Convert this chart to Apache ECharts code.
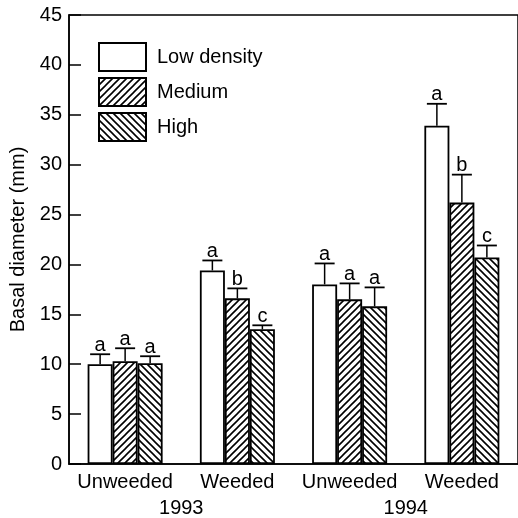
<!DOCTYPE html>
<html><head><meta charset="utf-8">
<script src="https://cdn.jsdelivr.net/npm/echarts@6/dist/echarts.min.js"></script>
<style>html,body{margin:0;padding:0;background:#fff}#c{width:518px;height:518px}</style>
</head><body><div id="c"></div>
<script>
const categories = ['Unweeded', 'Weeded', 'Unweeded', 'Weeded'];
const years = ['1993', '1994'];
const seriesNames = ['Low density', 'Medium', 'High'];
const lowVals = [10.0, 19.4, 18.0, 33.9];
const medVals = [10.3, 16.6, 16.5, 26.2];
const highVals = [10.1, 13.5, 15.8, 20.7];
const lowErr = [11.0, 20.4, 20.1, 36.1];
const medErr = [11.6, 17.6, 18.1, 29.0];
const highErr = [10.8, 13.9, 17.7, 21.9];
const lowLetters = ['a', 'a', 'a', 'a'];
const medLetters = ['a', 'b', 'a', 'b'];
const highLetters = ['a', 'c', 'a', 'c'];
const yTicks = [0, 5, 10, 15, 20, 25, 30, 35, 40, 45];

const FONT = 'Liberation Sans, Arial, sans-serif';
const BW = 25;

function hatch(dir) {
  const s = 7;
  const c = document.createElement('canvas');
  c.width = s; c.height = s;
  const g = c.getContext('2d');
  g.fillStyle = '#fff'; g.fillRect(0, 0, s, s);
  g.strokeStyle = '#000'; g.lineWidth = 1.6;
  g.beginPath();
  if (dir === '/') {
    g.moveTo(-1, s + 1); g.lineTo(s + 1, -1);
    g.moveTo(-1, 1); g.lineTo(1, -1);
    g.moveTo(s - 1, s + 1); g.lineTo(s + 1, s - 1);
  } else {
    g.moveTo(-1, -1); g.lineTo(s + 1, s + 1);
    g.moveTo(s - 1, -1); g.lineTo(s + 1, 1);
    g.moveTo(-1, s - 1); g.lineTo(1, s + 1);
  }
  g.stroke();
  return c;
}

const fills = ['#fff', { image: hatch('/'), repeat: 'repeat' }, { image: hatch('\\'), repeat: 'repeat' }];
const vals = [lowVals, medVals, highVals];
const errs = [lowErr, medErr, highErr];
const letters = [lowLetters, medLetters, highLetters];

const series = [];
for (let i = 0; i < 3; i++) {
  series.push({
    name: seriesNames[i], type: 'bar', barWidth: BW, barGap: '0%',
    data: vals[i],
    itemStyle: { color: fills[i], borderColor: '#000', borderWidth: 1.8 },
    emphasis: { disabled: true }, z: 2
  });
}
for (let i = 0; i < 3; i++) {
  const off = (i - 1) * BW;
  series.push({
    type: 'custom', z: 3, silent: true,
    data: vals[i].map((v, k) => [k, v, errs[i][k]]),
    renderItem: function (params, api) {
      const base = api.coord([api.value(0), api.value(1)]);
      const top = api.coord([api.value(0), api.value(2)]);
      const x = base[0] + off;
      const k = params.dataIndex;
      return {
        type: 'group', children: [
          { type: 'line', shape: { x1: x, y1: base[1], x2: x, y2: top[1] }, style: { stroke: '#000', lineWidth: 1.5 } },
          { type: 'line', shape: { x1: x - 10, y1: top[1], x2: x + 10, y2: top[1] }, style: { stroke: '#000', lineWidth: 1.8 } },
          { type: 'text', x: x, y: top[1] - 9, style: { text: letters[i][k], fontSize: 20, fontFamily: FONT, fill: '#000', align: 'center', verticalAlign: 'middle' } }
        ]
      };
    }
  });
}

const chart = echarts.init(document.getElementById('c'), null, { renderer: 'canvas' });
chart.setOption({
  animation: false,
  backgroundColor: '#fff',
  grid: { left: 69, top: 15, width: 452, height: 450, show: true, borderColor: '#000', borderWidth: 1.5, backgroundColor: 'transparent' },
  legend: {
    orient: 'vertical', left: 93, top: 37, itemWidth: 47, itemHeight: 28, itemGap: 5,
    icon: 'rect', selectedMode: false,
    data: seriesNames,
    textStyle: { fontSize: 20, fontFamily: FONT, color: '#000', padding: [0, 0, 0, 6] }
  },
  xAxis: [
    {
      type: 'category', data: categories, position: 'bottom',
      axisLine: { lineStyle: { color: '#000', width: 1.5 } },
      axisTick: { show: false },
      axisLabel: { interval: 0, hideOverlap: false, fontSize: 20, fontFamily: FONT, color: '#000', margin: 8 }
    },
    {
      type: 'category', data: years, position: 'bottom', offset: 26,
      axisLine: { show: false }, axisTick: { show: false },
      axisLabel: { interval: 0, hideOverlap: false, fontSize: 20, fontFamily: FONT, color: '#000', margin: 8 }
    }
  ],
  yAxis: {
    type: 'value', min: 0, max: 45, interval: 5,
    name: 'Basal diameter (mm)', nameLocation: 'middle', nameGap: 41,
    nameTextStyle: { fontSize: 20, fontFamily: FONT, color: '#000' },
    axisLine: { show: true, lineStyle: { color: '#000', width: 1.5 } },
    axisTick: { show: true, inside: true, length: 12, lineStyle: { color: '#000', width: 1.5 } },
    axisLabel: { fontSize: 20, fontFamily: FONT, color: '#000', margin: 7,
      formatter: v => (yTicks.indexOf(v) >= 0 ? String(v) : '') },
    splitLine: { show: false }
  },
  series: series
});
</script></body></html>
